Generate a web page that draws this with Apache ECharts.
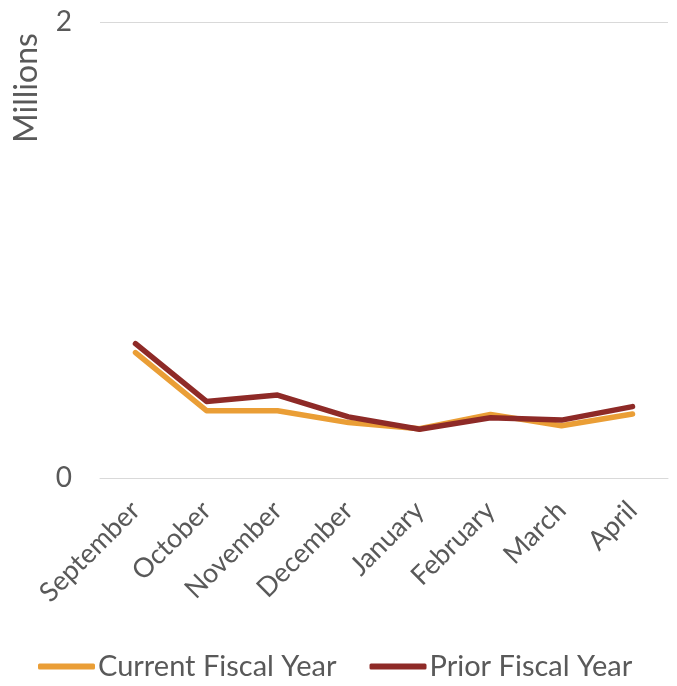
<!DOCTYPE html>
<html>
<head>
<meta charset="utf-8">
<script src="https://cdn.jsdelivr.net/npm/echarts@6/dist/echarts.min.js"></script>
<style>
  html, body { margin: 0; padding: 0; background: #fff; }
  #chart { width: 677px; height: 686px; }
</style>
</head>
<body>
<div id="chart"></div>
<script>
// values in millions
const months = ['September', 'October', 'November', 'December', 'January', 'February', 'March', 'April'];
const currentYear = [0.550, 0.295, 0.295, 0.243, 0.216, 0.279, 0.229, 0.281];
const priorYear = [0.589, 0.336, 0.364, 0.268, 0.214, 0.264, 0.254, 0.313];

const font = 'Lato, "Open Sans", sans-serif';
const textColor = '#595959';

let chart = echarts.init(document.getElementById('chart'));

chart.setOption({
  animation: false,
  textStyle: { fontFamily: font },
  grid: { left: 100, right: 9, top: 22, bottom: 208, containLabel: false },
  legend: {
    left: 33,
    bottom: 0,
    icon: 'roundRect',
    itemWidth: 57,
    itemHeight: 6,
    itemGap: 33,
    textStyle: { fontSize: 29, color: textColor, fontFamily: font, padding: [0, 0, 0, -2] },
    data: ['Current Fiscal Year', 'Prior Fiscal Year']
  },
  graphic: [{
    type: 'text',
    x: 27,
    y: 88,
    rotation: Math.PI / 2,
    style: {
      text: 'Millions',
      fontSize: 32,
      fontFamily: font,
      fill: textColor,
      align: 'center',
      verticalAlign: 'middle'
    }
  }],
  xAxis: {
    type: 'category',
    data: months,
    boundaryGap: true,
    axisLine: { lineStyle: { color: '#d9d9d9', width: 1 } },
    axisTick: { show: false },
    axisLabel: { rotate: 45, fontSize: 27, color: textColor, margin: 28, interval: 0 }
  },
  yAxis: {
    type: 'value',
    min: 0,
    max: 2,
    interval: 2,
    axisLine: { show: false },
    axisTick: { show: false },
    splitLine: { lineStyle: { color: '#d9d9d9', width: 1 } },
    axisLabel: { fontSize: 28, color: textColor, margin: 28 }
  },
  series: [
    {
      name: 'Current Fiscal Year',
      type: 'line',
      data: currentYear,
      symbol: 'none',
      color: '#ea9e36',
      lineStyle: { width: 5.5, color: '#ea9e36', cap: 'round', join: 'round' }
    },
    {
      name: 'Prior Fiscal Year',
      type: 'line',
      data: priorYear,
      symbol: 'none',
      color: '#8e2a27',
      lineStyle: { width: 5.5, color: '#8e2a27', cap: 'round', join: 'round' }
    }
  ]
});
</script>
</body>
</html>
